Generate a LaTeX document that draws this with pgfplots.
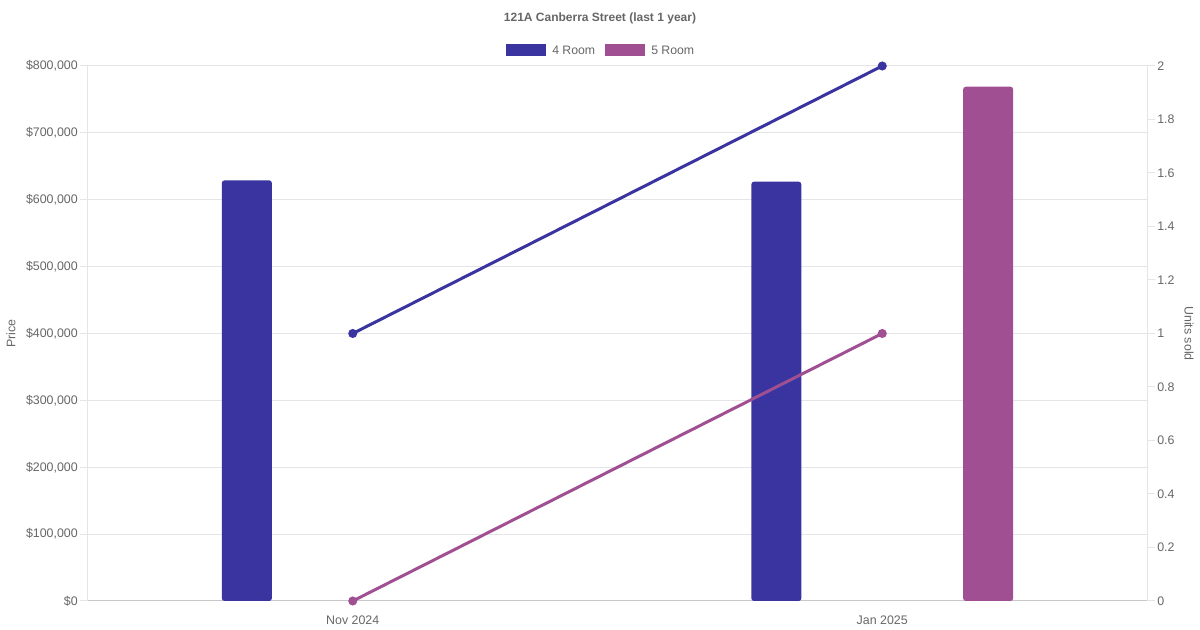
\documentclass[border=0pt]{standalone}
\usepackage{pgfplots}
\pgfplotsset{compat=1.18}
\usepackage{fontspec}
\setmainfont{Liberation Sans}
\definecolor{roomA}{RGB}{57,52,160}
\definecolor{roomB}{RGB}{160,80,146}
\definecolor{tickgray}{RGB}{102,102,102}
\definecolor{gridgray}{RGB}{229,229,229}
\definecolor{basegray}{RGB}{200,200,200}
\begin{document}
\begin{tikzpicture}
\useasboundingbox (0pt,0pt) rectangle (900pt,472.5pt);
% title
\node[font=\bfseries\fontsize{9}{11}\selectfont, text=tickgray] at (450pt,459pt) {121A Canberra Street (last 1 year)};
% legend
\fill[roomA] (379.5pt,430.5pt) rectangle (409.5pt,439.5pt);
\node[anchor=west, inner sep=0pt, font=\fontsize{9.2}{11}\selectfont, text=tickgray] at (414pt,435pt) {4 Room};
\fill[roomB] (453.75pt,430.5pt) rectangle (483.75pt,439.5pt);
\node[anchor=west, inner sep=0pt, font=\fontsize{9.2}{11}\selectfont, text=tickgray] at (488.25pt,435pt) {5 Room};
\begin{axis}[
  at={(66pt,21.75pt)}, anchor=south west,
  scale only axis, width=794.25pt, height=401.25pt,
  xmin=-0.5, xmax=1.5, ymin=0, ymax=800000,
  axis x line*=bottom, axis y line*=left,
  x axis line style={draw=basegray, line width=0.75pt},
  y axis line style={draw=gridgray, line width=0.75pt},
  xtick={0,1}, xticklabels={Nov 2024, Jan 2025},
  xtick style={draw=none},
  ytick={0,100000,...,800000},
  yticklabels={\$0,\$100{,}000,\$200{,}000,\$300{,}000,\$400{,}000,\$500{,}000,\$600{,}000,\$700{,}000,\$800{,}000},
  scaled y ticks=false,
  tick align=outside, major tick length=6pt,
  ytick style={draw=gridgray, line width=0.75pt},
  ymajorgrids, grid style={draw=gridgray, line width=0.75pt},
  ticklabel style={font=\fontsize{9.3}{11}\selectfont, text=tickgray},
  yticklabel style={inner sep=1.5pt},
  xticklabel style={inner sep=1pt, yshift=-4pt},
  every axis y label/.style={at={(axis description cs:-0.0727,0.5)}, anchor=center, rotate=90, font=\fontsize{9.3}{11}\selectfont, text=tickgray},
  ylabel={Price},
]
\addplot[ybar, bar width=0.0944, bar shift=0pt, fill=roomA, draw=none, rounded corners=2pt] coordinates {(-0.2,629000) (0.8,627000)};
\addplot[ybar, bar width=0.0944, bar shift=0pt, fill=roomB, draw=none, rounded corners=2pt] coordinates {(1.2,769000)};
\end{axis}
\begin{axis}[
  at={(66pt,21.75pt)}, anchor=south west,
  scale only axis, width=794.25pt, height=401.25pt,
  xmin=-0.5, xmax=1.5, ymin=0, ymax=2,
  axis x line=none, axis y line*=right,
  y axis line style={draw=gridgray, line width=0.75pt},
  ytick={0,0.2,0.4,0.6,0.8,1,1.2,1.4,1.6,1.8,2},
  yticklabels={0,0.2,0.4,0.6,0.8,1,1.2,1.4,1.6,1.8,2},
  tick align=outside, major tick length=6pt,
  ytick style={draw=gridgray, line width=0.75pt},
  ticklabel style={font=\fontsize{9.3}{11}\selectfont, text=tickgray},
  yticklabel style={inner sep=1.5pt},
  every axis y label/.style={at={(axis description cs:1.0397,0.5)}, anchor=center, rotate=-90, font=\fontsize{9.3}{11}\selectfont, text=tickgray},
  ylabel={Units sold},
  clip=false,
]
\addplot[roomA, line width=2.25pt, mark=*, mark size=2.2pt, mark options={solid, fill=roomA, draw=none}] coordinates {(0,1) (1,2)};
\addplot[roomB, line width=2.25pt, mark=*, mark size=2.2pt, mark options={solid, fill=roomB, draw=none}] coordinates {(0,0) (1,1)};
\end{axis}
\end{tikzpicture}
\end{document}
